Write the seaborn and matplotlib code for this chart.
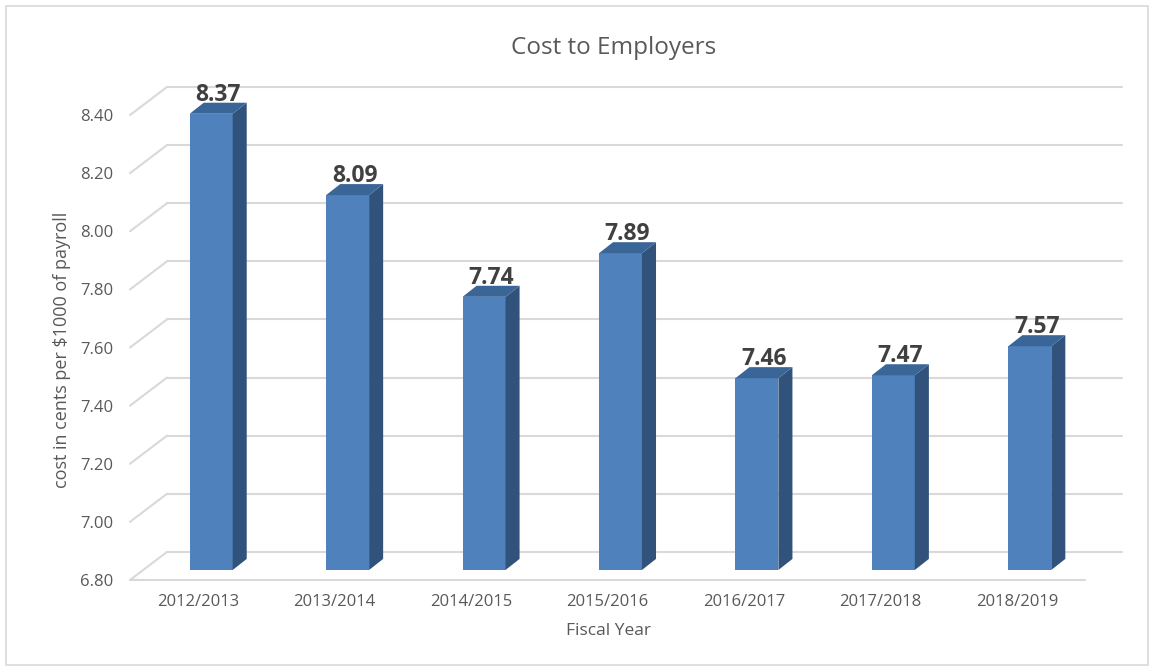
import matplotlib
matplotlib.use("Agg")
import matplotlib.pyplot as plt
import seaborn as sns
import pandas as pd
from matplotlib.patches import Polygon, Rectangle

years = ["2012/2013", "2013/2014", "2014/2015", "2015/2016", "2016/2017", "2017/2018", "2018/2019"]
cost = [8.37, 8.09, 7.74, 7.89, 7.46, 7.47, 7.57]
y_ticks = [6.80, 7.00, 7.20, 7.40, 7.60, 7.80, 8.00, 8.20, 8.40]

# fake 3d geometry (in data units of the front floor plane)
floor_dx, floor_dy = 0.271, 0.0966   # depth of the whole floor
bar_dx, bar_dy = 0.103, 0.038        # depth of one bar
bar_off_x, bar_off_y = 0.095, 0.0345  # where the bar front sits inside the floor
bar_w = 0.315
y0 = 6.8

sns.set_theme(style="white")
plt.rcParams['font.family'] = ['Open Sans', 'DejaVu Sans']

df = pd.DataFrame({"year": years, "cost": cost})

fig = plt.figure(figsize=(11.56, 6.71), dpi=100)
ax = fig.add_axes([130 / 1156, 1 - 580 / 671, 992 / 1156, 493 / 671])

sns.barplot(data=df, x="year", y="cost", color="#4F81BD", saturation=1, ax=ax, zorder=3)

grid_c = "#D9D9D9"
x_left = -0.5
x_right = len(years) - 0.5
# back wall gridlines + left wall diagonals
for v in y_ticks:
    ax.plot([x_left + floor_dx, x_right + floor_dx], [v + floor_dy, v + floor_dy],
            color=grid_c, lw=1.5, zorder=1, clip_on=False)
    ax.plot([x_left, x_left + floor_dx], [v, v + floor_dy],
            color=grid_c, lw=1.5, zorder=1, clip_on=False)
# front edge of the floor
ax.plot([x_left, x_right], [y0, y0], color=grid_c, lw=1.5, zorder=1, clip_on=False)

# reshape the bars and add side + top faces
for p, val in zip(ax.patches, cost):
    cx = p.get_x() + p.get_width() / 2 + bar_off_x
    x1 = cx - bar_w / 2
    x2 = cx + bar_w / 2
    yb = y0 + bar_off_y
    yt = val + bar_off_y
    p.set_x(x1)
    p.set_width(bar_w)
    p.set_y(yb)
    p.set_height(yt - yb)
    p.set_edgecolor("none")
    side = Polygon([(x2, yb), (x2 + bar_dx, yb + bar_dy), (x2 + bar_dx, yt + bar_dy), (x2, yt)],
                   closed=True, facecolor="#31527B", edgecolor="none", zorder=3)
    top = Polygon([(x1, yt), (x2, yt), (x2 + bar_dx, yt + bar_dy), (x1 + bar_dx, yt + bar_dy)],
                  closed=True, facecolor="#3A6597", edgecolor="none", zorder=3)
    ax.add_patch(side)
    ax.add_patch(top)
    ax.text(cx + bar_dx / 2, yt + bar_dy + 0.007, f"{val:.2f}", ha="center", va="baseline",
            fontsize=16.5, fontweight="bold", color="#404040", zorder=4)

ax.set_xlim(x_left, x_right + floor_dx)
ax.set_ylim(y0, 8.4 + floor_dy)
ax.set_yticks(y_ticks)
ax.set_yticklabels([f"{v:.2f}" for v in y_ticks])
for s in ax.spines.values():
    s.set_visible(False)
ax.tick_params(axis="both", length=0, labelsize=12, labelcolor="#595959")
ax.tick_params(axis="y", pad=12)
ax.tick_params(axis="x", pad=10)
ax.set_xlabel("Fiscal Year", fontsize=12.5, color="#595959")
ax.xaxis.set_label_coords(0.482, -0.088)
ax.set_ylabel("cost in cents per $1000 of payroll", fontsize=13, color="#595959")
ax.yaxis.set_label_coords(-0.0595, 0.4665)
ax.set_facecolor("none")

fig.text(614 / 1156, 1 - 48 / 671, "Cost to Employers", ha="center", va="center",
         fontsize=17.5, color="#595959")
fig.patches.append(Rectangle((6 / 1156, 6 / 671), 1142 / 1156, 659 / 671, transform=fig.transFigure,
                             fill=False, edgecolor="#D9D9D9", lw=1.2))

fig.savefig("out.png", dpi=100)
